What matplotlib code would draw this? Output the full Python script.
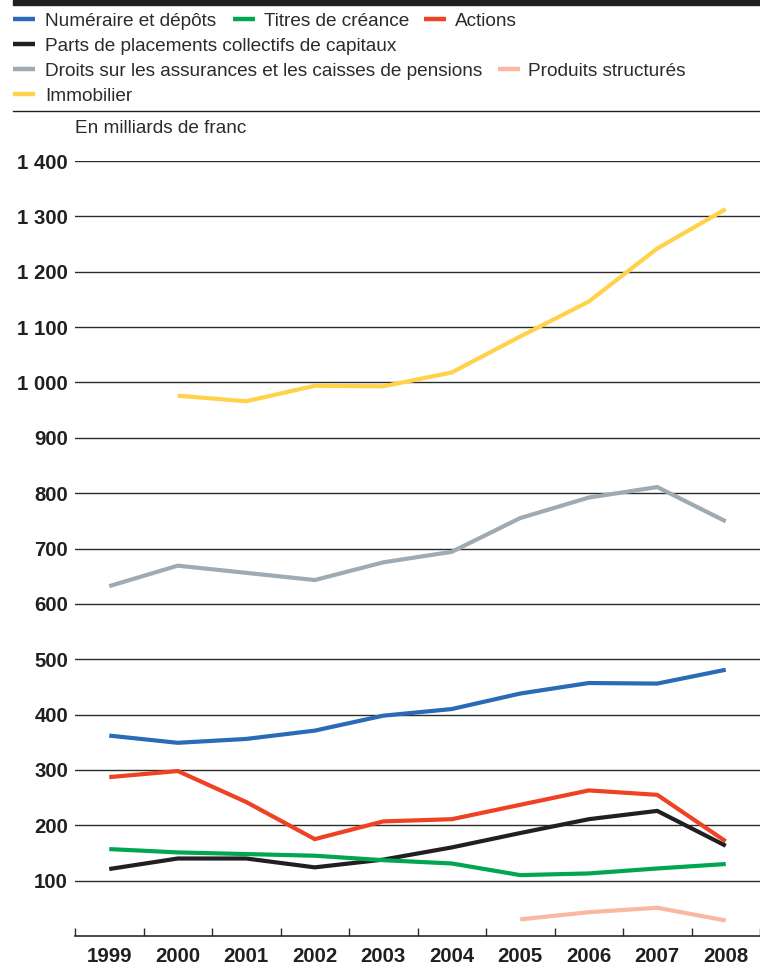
import numpy as np
import matplotlib
matplotlib.use("Agg")
import matplotlib.pyplot as plt
from matplotlib.lines import Line2D
from matplotlib.patches import Rectangle

years = ["1999", "2000", "2001", "2002", "2003", "2004", "2005", "2006", "2007", "2008"]

numeraire = [362, 349, 356, 371, 398, 410, 438, 457, 456, 481]
titres = [157, 151, 148, 145, 137, 131, 110, 113, 122, 130]
actions = [287, 298, 242, 175, 207, 211, 237, 263, 255, 171]
placements = [121, 140, 140, 124, 138, 160, 186, 211, 226, 163]
assurances = [632, 669, 656, 643, 675, 694, 755, 792, 811, 749]
structures = [np.nan, np.nan, np.nan, np.nan, np.nan, np.nan, 30, 43, 51, 28]
immobilier = [np.nan, 976, 966, 994, 993, 1018, 1083, 1146, 1242, 1313]

labels = ["Numéraire et dépôts", "Titres de créance", "Actions",
          "Parts de placements collectifs de capitaux",
          "Droits sur les assurances et les caisses de pensions",
          "Produits structurés", "Immobilier"]
colors = ["#2a6ab7", "#00a650", "#ef4123", "#231f20", "#9eabb3", "#f9b9a1", "#ffd24a"]
series = [numeraire, titres, actions, placements, assurances, structures, immobilier]

yticks = list(range(100, 1500, 100))
ylabels = [f"{v:,}".replace(",", " ") for v in yticks]

W, H = 760, 969
fig = plt.figure(figsize=(W / 100, H / 100), dpi=100)
FONT = ["Liberation Sans", "DejaVu Sans"]

def fx(px):
    return px / W

def fy(py):
    return 1 - py / H

# top black bar
fig.patches.append(Rectangle((fx(13), fy(4.5)), fx(760) - fx(13), 4.5 / H,
                             transform=fig.transFigure, color="#231f20", zorder=5))

# legend (manual layout)
leg_items = [
    (0, 13, 45, 26), (1, 233, 264, 26), (2, 424, 455, 26),
    (3, 13, 45, 51),
    (4, 13, 45, 76), (5, 498, 528, 76),
    (6, 13, 45, 101),
]
for idx, hx, tx, base in leg_items:
    fig.add_artist(Line2D([fx(hx), fx(hx + 22)], [fy(base - 7.5), fy(base - 7.5)],
                          transform=fig.transFigure, color=colors[idx], lw=3.2,
                          solid_capstyle="butt"))
    fig.text(fx(tx), fy(base), labels[idx], fontsize=13.7, family=FONT,
             color="#2b2b2b", ha="left", va="baseline")

# separator line
fig.add_artist(Line2D([fx(13), fx(760)], [fy(111), fy(111)], transform=fig.transFigure,
                      color="#231f20", lw=1.0))

fig.text(fx(75), fy(133), "En milliards de franc", fontsize=13.7, family=FONT,
         color="#2b2b2b", ha="left", va="baseline")

# axes
ax = fig.add_axes([fx(75), fy(936), fx(760) - fx(75), (936 - 161) / H])
x = np.arange(len(years))
order = [6, 4, 0, 2, 3, 1, 5]
for i in order:
    ax.plot(x, series[i], color=colors[i], lw=3.0, solid_capstyle="butt",
            solid_joinstyle="miter", clip_on=False, zorder=3)

ax.set_xlim(-0.5, len(years) - 0.5)
ax.set_ylim(0, 1400)

ax.set_yticks(yticks)
ax.set_yticklabels(ylabels, fontsize=14.7, fontweight="bold", family=FONT, color="#231f20")
ax.tick_params(axis="y", length=0, pad=5)
ax.yaxis.grid(True, color="#2b2b2b", lw=1.0)
ax.set_axisbelow(True)

ax.set_xticks(x)
ax.set_xticklabels(years, fontsize=14.7, fontweight="bold", family=FONT, color="#231f20")
ax.set_xticks(np.arange(-0.5, len(years)), minor=True)
ax.tick_params(axis="x", which="major", length=0, pad=8)
ax.tick_params(axis="x", which="minor", direction="in", length=5.5, width=1.0, color="#2b2b2b")

for s in ["top", "right", "left"]:
    ax.spines[s].set_visible(False)
ax.spines["bottom"].set_color("#2b2b2b")
ax.spines["bottom"].set_linewidth(1.2)
ax.patch.set_visible(False)

fig.savefig("out.png", dpi=100)
